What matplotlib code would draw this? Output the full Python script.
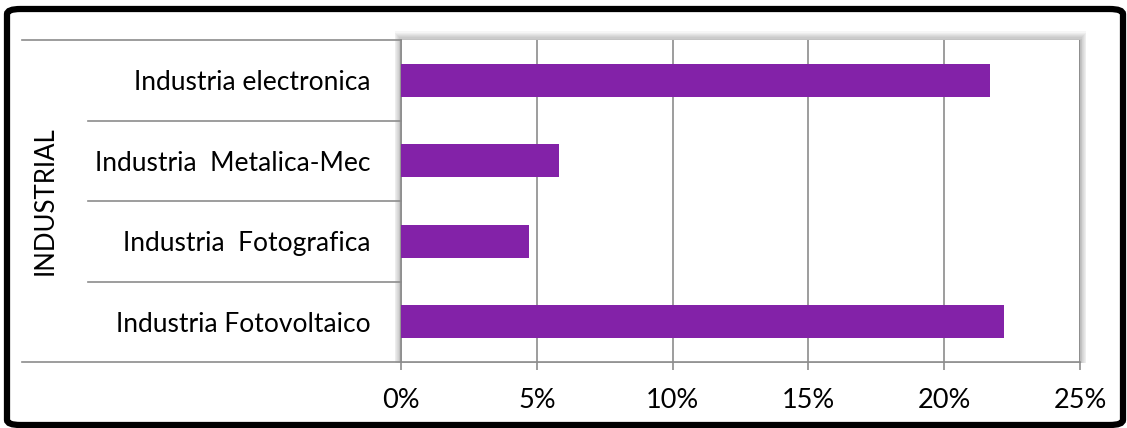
import matplotlib
matplotlib.use("Agg")
import matplotlib.pyplot as plt
from matplotlib.patches import FancyBboxPatch, Rectangle
from matplotlib.lines import Line2D
import matplotlib.transforms as mtransforms

categories = ["Industria Fotovoltaico", "Industria  Fotografica",
              "Industria  Metalica-Mec", "Industria electronica"]
values = [22.2, 4.7, 5.8, 21.7]
xticks = [0, 5, 10, 15, 20, 25]
xtick_labels = ["0%", "5%", "10%", "15%", "20%", "25%"]
group_label = "INDUSTRIAL"

W, H = 1127, 428
plt.rcParams["font.family"] = ["Lato", "DejaVu Sans"]
fig = plt.figure(figsize=(W / 100, H / 100), dpi=100)

# plot area in pixels
L, R, T, B = 401, 1080, 40, 362
ax = fig.add_axes([L / W, 1 - B / H, (R - L) / W, (B - T) / H])
ax.set_zorder(2)

# soft shadow behind plot area
for i in range(8, 0, -1):
    fig.patches.append(Rectangle(((L - i * 0.8) / W, (H - B - 1) / H),
                                 (R - L + i * 1.6) / W, (B - T + i * 1.2) / H,
                                 transform=fig.transFigure, facecolor="#000000",
                                 alpha=0.035, edgecolor="none", zorder=0))

ax.set_facecolor("white")
ypos = range(len(categories))
ax.barh(ypos, values, height=0.41, color="#8322A8", zorder=3)
ax.set_xlim(0, 25)
ax.set_ylim(-0.5, len(categories) - 0.5)
ax.set_xticks(xticks)
ax.set_xticklabels(xtick_labels, fontsize=19.5)
ax.set_yticks(list(ypos))
ax.set_yticklabels(categories, fontsize=19)
ax.tick_params(axis="y", length=0, pad=22)
ax.tick_params(axis="x", length=6, width=1.2, color="#8c8c8c", pad=13, direction="out")
ax.grid(axis="x", color="#8c8c8c", linewidth=1.2, zorder=1)
for s in ["top", "right"]:
    ax.spines[s].set_visible(False)
ax.spines["left"].set_color("#8c8c8c")
ax.spines["bottom"].set_color("#8c8c8c")
ax.spines["left"].set_linewidth(1.2)
ax.spines["bottom"].set_linewidth(1.2)
ax.axvline(25, color="#8c8c8c", linewidth=1.2, zorder=1)

# category separator lines left of plot area
trans = mtransforms.blended_transform_factory(ax.transAxes, ax.transData)
outer_x = (22 - L) / (R - L)
inner_x = (88 - L) / (R - L)
for y in [-0.5, len(categories) - 0.5]:
    ax.add_line(Line2D([outer_x, 0], [y, y], transform=trans, color="#8c8c8c",
                       linewidth=1.2, clip_on=False))
for k in range(1, len(categories)):
    ax.add_line(Line2D([inner_x, 0], [k - 0.5, k - 0.5], transform=trans,
                       color="#8c8c8c", linewidth=1.2, clip_on=False))
ax.text((45 - L) / (R - L), 0.5, group_label, transform=ax.transAxes, rotation=90,
        ha="center", va="center", fontsize=18.5)

# black rounded frame round the chart
fig.patches.append(FancyBboxPatch((7 / W, 3 / H), (W - 11) / W, (H - 12) / H,
                                  boxstyle="round,pad=0,rounding_size=0.012",
                                  transform=fig.transFigure, facecolor="none",
                                  edgecolor="black", linewidth=4.5, zorder=5))

fig.savefig("out.png", dpi=100)
